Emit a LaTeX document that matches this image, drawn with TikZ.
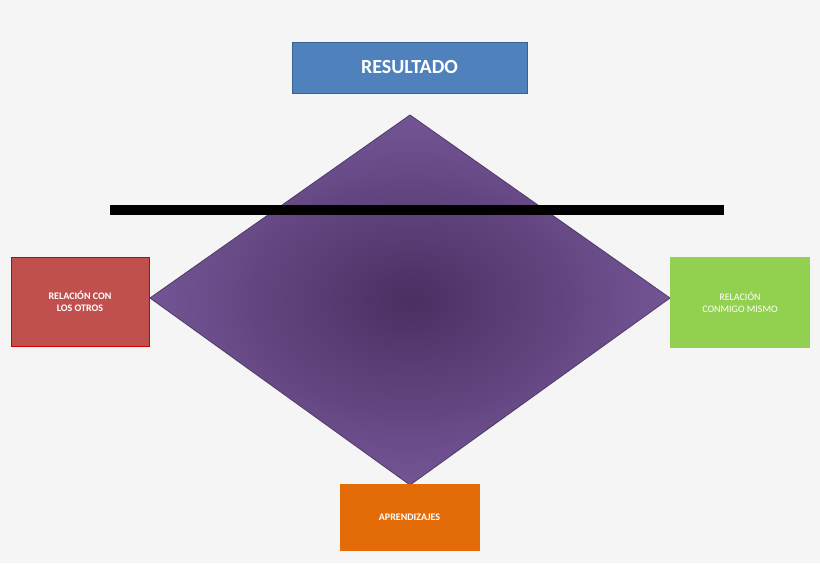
\documentclass[tikz,border=0pt]{standalone}
\usepackage{fontspec}
\setmainfont{Carlito}
\definecolor{bgcol}{HTML}{F5F5F5}
\definecolor{rombo}{HTML}{735595}
\definecolor{romboin}{HTML}{4A2F62}
\definecolor{azul}{HTML}{4F81BD}
\definecolor{rojo}{HTML}{C0504D}
\definecolor{verde}{HTML}{92D050}
\definecolor{naranja}{HTML}{E36C09}
\tikzset{CajaStyle/.style = {draw, line width=1pt, text=white,
 font=\bfseries\fontsize{10}{12}\selectfont, align=center, inner sep=0pt}}
\begin{document}
\begin{tikzpicture}[x=1pt,y=-1pt]
\fill[bgcol] (0,0) rectangle (820,563);
\useasboundingbox (0,0) rectangle (820,563);

% rombo central
\coordinate (R_N) at (410,115);
\coordinate (R_O) at (150,298);
\coordinate (R_E) at (670,298);
\coordinate (R_S) at (410,485);
\shade[inner color=romboin, outer color=rombo] (R_N) -- (R_E) -- (R_S) -- (R_O) -- cycle;
\draw[rombo!70!black, line width=0.8pt] (R_N) -- (R_E) -- (R_S) -- (R_O) -- cycle;

% barra
\coordinate (B_1) at (110,210);
\coordinate (B_2) at (724,210);
\draw[black, line width=10pt] (B_1) -- (B_2);

% cajas
\node[CajaStyle, fill=azul, draw=azul!75!black, minimum width=235, minimum height=51,
 font=\bfseries\fontsize{20}{24}\selectfont] (Res) at (409.5,67.5) {RESULTADO};
\node[CajaStyle, fill=rojo, draw=red!80!black, minimum width=138, minimum height=89] (Otros) at (80,301.5) {RELACIÓN CON\\LOS OTROS};
\node[CajaStyle, fill=verde, draw=verde, minimum width=139, minimum height=90,
 font=\fontsize{10}{12}\selectfont] (Mismo) at (740,302) {RELACIÓN\\CONMIGO MISMO};
\node[CajaStyle, fill=naranja, draw=naranja, minimum width=139, minimum height=66] (Apr) at (409.5,517) {APRENDIZAJES};
\end{tikzpicture}
\end{document}
